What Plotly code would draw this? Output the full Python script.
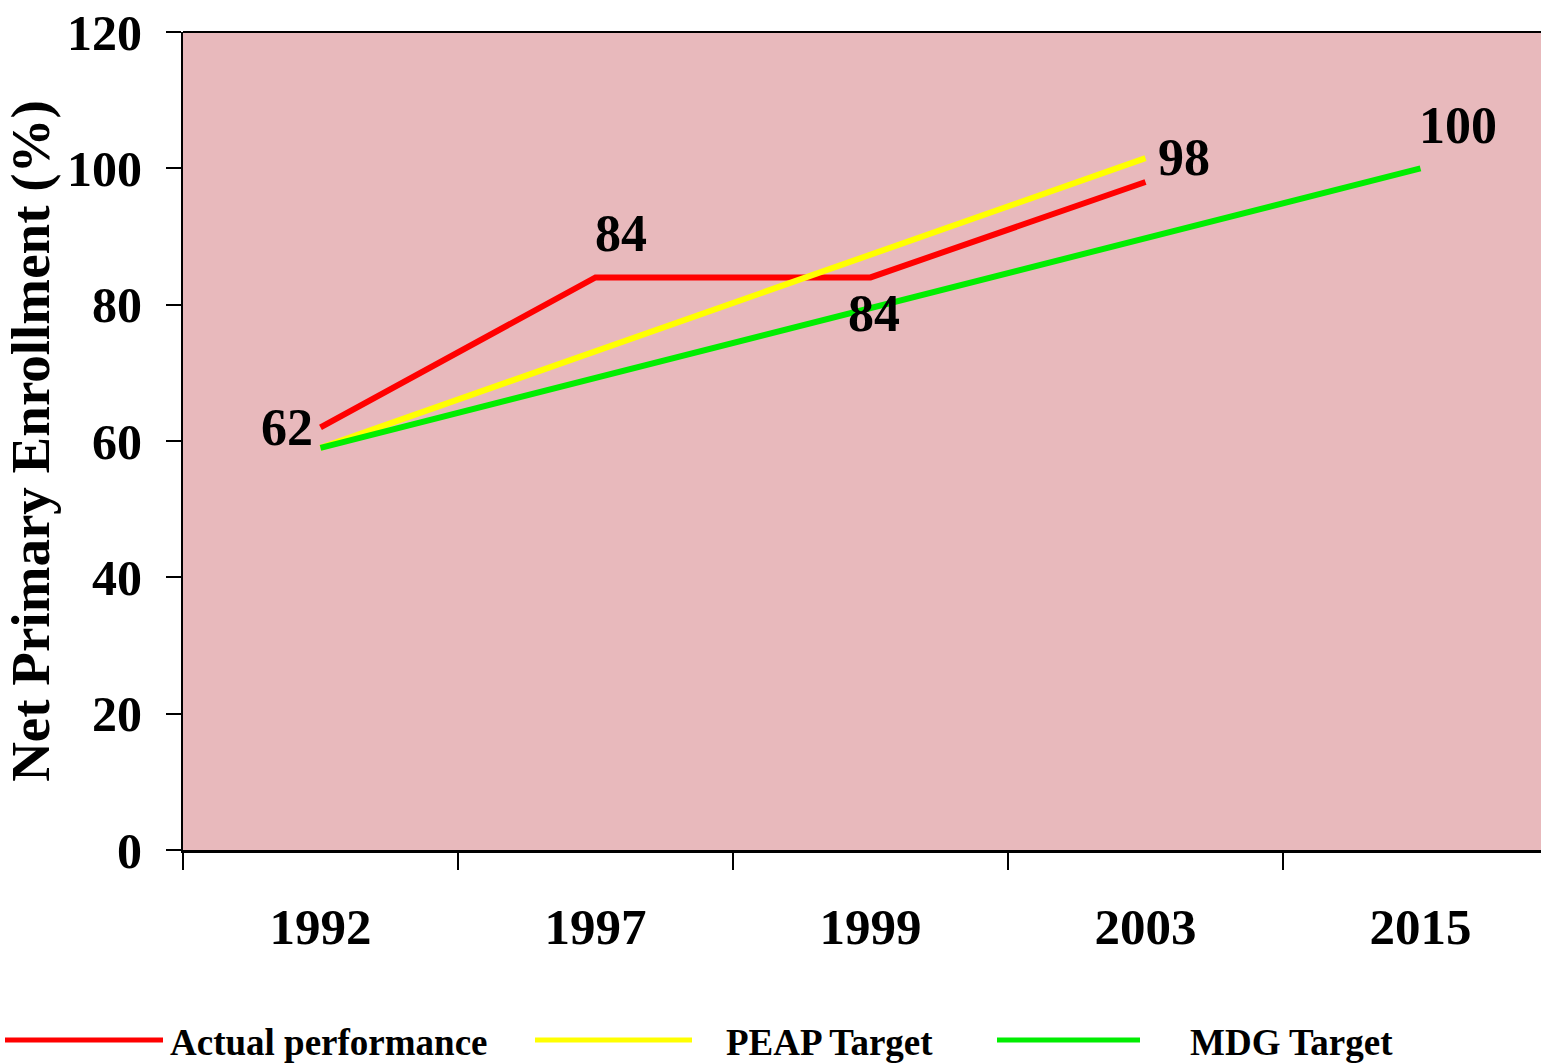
import plotly.graph_objects as go

# Net primary enrollment, actual vs. targets
years = ["1992", "1997", "1999", "2003", "2015"]
actual = [62, 84, 84, 98, None]
peap_target = [59, None, None, 101.5, None]
mdg_target = [59, None, None, None, 100]

series_names = ["Actual performance", "PEAP Target", "MDG Target"]
series_colors = ["#ff0000", "#ffff00", "#00ee00"]

y_ticks = [0, 20, 40, 60, 80, 100, 120]

FONT = "Liberation Serif, Times New Roman, serif"
W, H = 1541, 1063
L, R, T, B = 183, 0, 32, 213
plot_w = W - L - R
plot_h = H - T - B

fig = go.Figure()
for name, vals, col in zip(series_names, [actual, peap_target, mdg_target], series_colors):
    fig.add_trace(go.Scatter(
        x=years, y=vals, name=name, mode="lines", connectgaps=True,
        line=dict(color=col, width=6), showlegend=False,
    ))

# value labels: (category, value, xshift, yshift, anchor)
labels = [
    ("1992", actual[0], -6, 0, "right"),
    ("1997", actual[1], 25, 44, "center"),
    ("1999", actual[2], 3, -36, "center"),
    ("2003", actual[3], 38, 24, "center"),
    ("2015", mdg_target[4], 37, 43, "center"),
]
for cat, val, xs, ys, anc in labels:
    fig.add_annotation(
        x=years.index(cat), y=val, text=str(val), showarrow=False,
        xanchor=anc, yanchor="middle", xshift=xs, yshift=ys,
        font=dict(family=FONT, size=52, color="black", weight="bold"),
    )

# legend drawn below the axis: line sample followed by its label
legend_items = [(5, 163, 168), (535, 692, 724), (997, 1140, 1188)]
legend_y = 1040
ly = -(legend_y - (H - B)) / plot_h
for (x0, x1, xt), name, col in zip(legend_items, series_names, series_colors):
    fig.add_shape(
        type="line", xref="paper", yref="paper",
        x0=(x0 - L) / plot_w, x1=(x1 - L) / plot_w, y0=ly, y1=ly,
        line=dict(color=col, width=5),
    )
    fig.add_annotation(
        xref="paper", yref="paper", x=(xt - L) / plot_w, y=ly,
        text=name, showarrow=False, xanchor="left", yanchor="middle", yshift=-2,
        font=dict(family=FONT, size=37, color="black", weight="bold"),
    )

# top border of the plot area
fig.add_shape(type="line", xref="paper", yref="paper", x0=0, x1=1, y0=1, y1=1,
              line=dict(color="black", width=2))

fig.update_layout(
    width=W, height=H,
    margin=dict(l=L, r=R, t=T, b=B, pad=0),
    paper_bgcolor="white",
    plot_bgcolor="#e8b9bc",
    font=dict(family=FONT, color="black"),
)
fig.update_xaxes(
    type="category", categoryorder="array", categoryarray=years,
    range=[-0.5, (W - R - L) / 275 - 0.5],
    showgrid=False, zeroline=False,
    showline=True, linecolor="black", linewidth=3,
    ticks="outside", ticklen=17, tickwidth=2, tickcolor="black",
    tickson="boundaries", ticklabelstandoff=30,
    tickfont=dict(family=FONT, size=51, color="black", weight="bold"),
)
fig.update_yaxes(
    range=[0, 120], tickvals=y_ticks,
    showgrid=False, zeroline=False,
    showline=True, linecolor="black", linewidth=2,
    ticks="outside", ticklen=15, tickwidth=2, tickcolor="black",
    ticklabelstandoff=14,
    tickfont=dict(family=FONT, size=50, color="black", weight="bold"),
    title=dict(text="Net Primary Enrollment (%)",
               font=dict(family=FONT, size=55, color="black", weight="bold"), standoff=12),
)

fig.write_html("out.html")
